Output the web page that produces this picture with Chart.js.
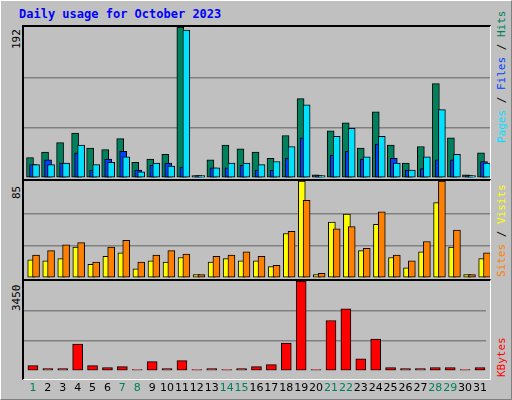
<!DOCTYPE html>
<html><head><meta charset="utf-8">
<script src="https://cdn.jsdelivr.net/npm/chart.js@4"></script>
<style>
body{margin:0;background:#fff}
#wrap{position:absolute;left:0;top:0;width:510px;height:398px;background:#C0C0C0;border-top:1px solid #fff;border-left:1px solid #fff;border-right:1px solid #808080;border-bottom:1px solid #808080;overflow:hidden;font-family:"DejaVu Sans Mono",monospace}
.panel{position:absolute;left:21px;width:469px;border-top:2px solid #000;border-left:2px solid #000;border-right:1px solid #fff;border-bottom:1px solid #fff;box-sizing:border-box}
.cv{position:absolute}
.rot{position:absolute;transform-origin:0 0;transform:rotate(-90deg);white-space:nowrap;font-size:11px}
#title{position:absolute;left:18px;top:6px;font-weight:bold;color:#0000FF;font-size:12px}
</style></head><body>
<div id="wrap">
<div id="title">Daily usage for October 2023</div>
<div class="panel" style="top:24px;height:155px"></div>
<div class="panel" style="top:178px;height:101px"></div>
<div class="panel" style="top:278px;height:101px"></div>
<div class="cv" style="left:23px;top:26px;width:466px;height:151px"><canvas id="c1"></canvas></div>
<div class="cv" style="left:23px;top:180px;width:466px;height:97px"><canvas id="c2"></canvas></div>
<div class="cv" style="left:23px;top:280px;width:466px;height:117px"><canvas id="c3"></canvas></div>
<div class="rot" style="left:9px;top:48px">192</div>
<div class="rot" style="left:9px;top:198px">85</div>
<div class="rot" style="left:9px;top:310px">3450</div>
<div class="rot" style="left:494px;top:142px"><span style="color:#00E0FF">Pages</span> / <span style="color:#0040FF">Files</span> / <span style="color:#00805C">Hits</span></div>
<div class="rot" style="left:494px;top:276px"><span style="color:#FF8000">Sites</span> / <span style="color:#FFFF00">Visits</span></div>
<div class="rot" style="left:494px;top:376px"><span style="color:#FF0000">KBytes</span></div>
</div>
<script>
const days=[1,2,3,4,5,6,7,8,9,10,11,12,13,14,15,16,17,18,19,20,21,22,23,24,25,26,27,28,29,30,31];
const weekend=[1,7,8,14,15,21,22,28,29];
const hits=[26,33,45,57,38,36,50,20,24,30,192,3,23,42,37,33,25,54,101,4,60,70,38,84,42,19,40,120,51,4,32];
const files=[17,23,19,32,10,24,34,10,16,19,14,3,13,13,16,10,10,25,51,3,29,34,24,43,25,10,12,23,23,3,21];
const pages=[17,17,19,42,17,20,27,8,19,15,188,3,13,19,19,17,21,40,93,3,53,63,27,53,19,10,27,87,30,3,19];
const visits=[16,15,17,27,12,19,22,8,15,14,18,3,14,17,15,15,10,39,85,3,49,56,24,47,18,9,23,66,27,3,17];
const sites=[20,24,29,31,14,27,33,14,20,24,21,3,19,20,23,19,11,41,68,4,43,45,26,58,20,15,32,85,42,3,22];
const kbytes=[200,88,88,1029,200,125,163,50,351,88,389,50,88,50,88,163,238,1066,3450,50,1932,2384,464,1216,125,88,88,125,125,50,125];
const maxes=[192,85,3450];

function ds(vals,off,color,order,w){
  return {data:vals.map((v,i)=>({x:days[i]+off,y:v})),backgroundColor:color,borderColor:'#000',borderWidth:1,borderSkipped:false,barThickness:w,order:order,grouped:false};
}
function opts(max,showX){
  return {responsive:true,maintainAspectRatio:false,animation:false,
    layout:{padding:0},
    plugins:{legend:{display:false},tooltip:{enabled:false}},
    scales:{
      x:{type:'linear',min:0.4,max:31.4,offset:false,
        border:{display:false},grid:{display:false},
        afterBuildTicks:s=>{s.ticks=days.map(d=>({value:d}));},
        afterFit:s=>{if(!showX)s.height=0;},
        ticks:{display:showX,autoSkip:false,maxRotation:0,padding:3,
          color:c=>weekend.includes(c.tick.value)?'#00805C':'#000',
          font:{family:'DejaVu Sans',size:11},
          callback:v=>String(v)}},
      y:{min:0,max:max,border:{display:false},
        afterFit:s=>{s.width=0;},
        ticks:{display:false,stepSize:max/3},
        grid:{drawTicks:false,color:c=>(c.index===1||c.index===2)?'#808080':'rgba(0,0,0,0)',lineWidth:1.5}}
    }};
}
new Chart(document.getElementById('c1'),{type:'bar',data:{datasets:[
  ds(hits,-0.2,'#00805C',3,7),ds(files,0,'#0040FF',2,7),ds(pages,0.2,'#00E0FF',1,7)]},options:opts(maxes[0],false)});
new Chart(document.getElementById('c2'),{type:'bar',data:{datasets:[
  ds(visits,-0.12,'#FFFF00',2,7),ds(sites,0.2,'#FF8000',1,7)]},options:opts(maxes[1],false)});
new Chart(document.getElementById('c3'),{type:'bar',data:{datasets:[
  ds(kbytes,0,'#FF0000',1,10)]},options:opts(maxes[2],true)});
</script>
</body></html>
